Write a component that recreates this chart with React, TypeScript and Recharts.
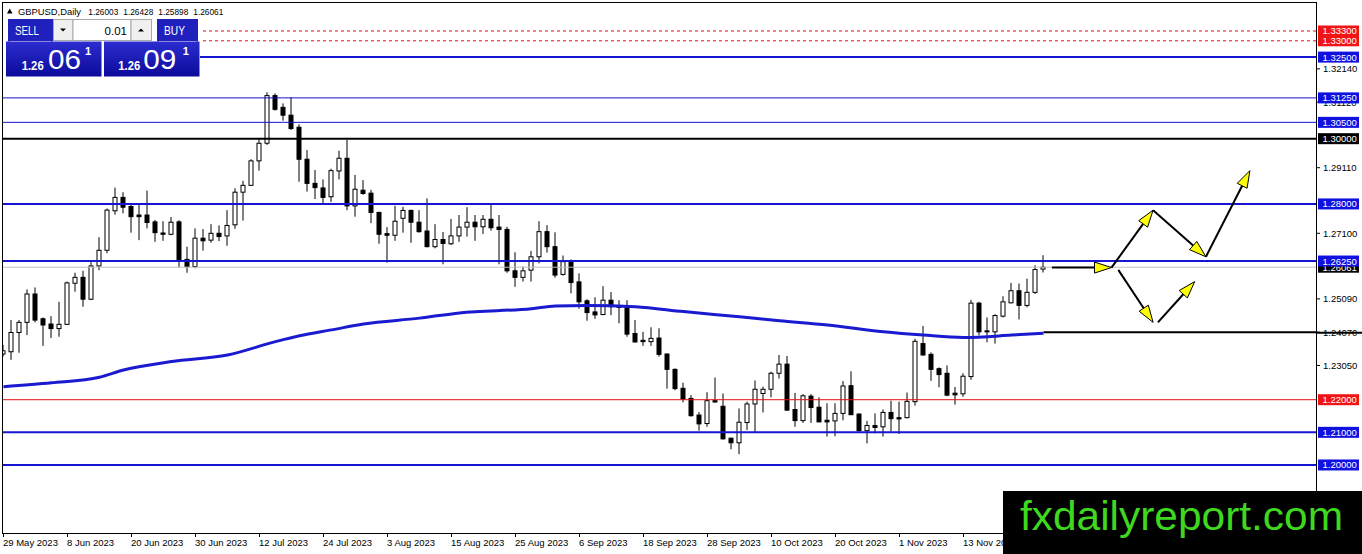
import { ComposedChart, Bar, Line, XAxis, YAxis, ReferenceLine } from "recharts";

// GBPUSD daily candles, 29 May 2023 -> 27 Nov 2023
const opens = [
  1.2340, 1.2347, 1.2406, 1.2437, 1.2524, 1.2448, 1.2432, 1.2418, 1.2431, 1.2557,
  1.2575, 1.2508, 1.2610, 1.2658, 1.2779, 1.2820, 1.2792, 1.2766, 1.2766, 1.2745,
  1.2711, 1.2707, 1.2745, 1.2630, 1.2608, 1.2695, 1.2689, 1.2710, 1.2702, 1.2736,
  1.2836, 1.2857, 1.2932, 1.2986, 1.3132, 1.3096, 1.3072, 1.3035, 1.2937, 1.2863,
  1.2849, 1.2822, 1.2901, 1.2940, 1.2794, 1.2842, 1.2833, 1.2774, 1.2709, 1.2704,
  1.2756, 1.2780, 1.2744, 1.2717, 1.2669, 1.2691, 1.2678, 1.2702, 1.2729, 1.2744,
  1.2730, 1.2753, 1.2729, 1.2722, 1.2595, 1.2575, 1.2597, 1.2638, 1.2715, 1.2669,
  1.2584, 1.2625, 1.2561, 1.2503, 1.2469, 1.2461, 1.2505, 1.2487, 1.2487, 1.2403,
  1.2382, 1.2378, 1.2389, 1.2340, 1.2293, 1.2235, 1.2204, 1.2153, 1.2127, 1.2197,
  1.2180, 1.2082, 1.2068, 1.2130, 1.2187, 1.2219, 1.2232, 1.2281, 1.2309, 1.2170,
  1.2136, 1.2211, 1.2177, 1.2137, 1.2135, 1.2158, 1.2243, 1.2156, 1.2105, 1.2121,
  1.2117, 1.2161, 1.2145, 1.2145, 1.2194, 1.2372, 1.2339, 1.2295, 1.2281, 1.2220,
  1.2218, 1.2271, 1.2496, 1.2411, 1.2408, 1.2456, 1.2497, 1.2534, 1.2489, 1.2529,
  1.26003,
];
const highs = [
  1.2368, 1.2444, 1.2444, 1.2538, 1.2544, 1.2452, 1.2456, 1.2500, 1.2562, 1.2589,
  1.2595, 1.2623, 1.2698, 1.2786, 1.2850, 1.2836, 1.2800, 1.2802, 1.2841, 1.2751,
  1.2747, 1.2760, 1.2750, 1.2669, 1.2725, 1.2723, 1.2738, 1.2734, 1.2781, 1.2848,
  1.2871, 1.2937, 1.2998, 1.3142, 1.3139, 1.3108, 1.3127, 1.3044, 1.2965, 1.2904,
  1.2875, 1.2908, 1.2963, 1.2996, 1.2889, 1.2873, 1.2843, 1.2776, 1.2729, 1.2794,
  1.2791, 1.2783, 1.2781, 1.2817, 1.2738, 1.2714, 1.2754, 1.2766, 1.2790, 1.2766,
  1.2766, 1.2802, 1.2766, 1.2730, 1.2652, 1.2608, 1.2656, 1.2747, 1.2735, 1.2713,
  1.2642, 1.2630, 1.2587, 1.2508, 1.2514, 1.2548, 1.2530, 1.2505, 1.2505, 1.2444,
  1.2408, 1.2422, 1.2419, 1.2342, 1.2296, 1.2252, 1.2214, 1.2162, 1.2223, 1.2268,
  1.2219, 1.2084, 1.2173, 1.2194, 1.2259, 1.2240, 1.2286, 1.2337, 1.2334, 1.2221,
  1.2217, 1.2217, 1.2207, 1.2189, 1.2189, 1.2257, 1.2287, 1.2158, 1.2135, 1.2158,
  1.2170, 1.2197, 1.2194, 1.2222, 1.2387, 1.2426, 1.2345, 1.2299, 1.2305, 1.2239,
  1.2281, 1.2506, 1.2500, 1.2452, 1.2462, 1.2517, 1.2558, 1.2556, 1.2571, 1.2612,
  1.26428,
];
const lows = [
  1.2332, 1.2322, 1.2344, 1.2398, 1.2437, 1.2365, 1.2389, 1.2393, 1.2429, 1.2531,
  1.2485, 1.2505, 1.2597, 1.2649, 1.2767, 1.2771, 1.2712, 1.2689, 1.2725, 1.2684,
  1.2687, 1.2704, 1.2605, 1.2589, 1.2603, 1.2657, 1.2681, 1.2686, 1.2672, 1.2724,
  1.2749, 1.2855, 1.2902, 1.2981, 1.3086, 1.3055, 1.3027, 1.2868, 1.2838, 1.2815,
  1.2800, 1.2806, 1.2875, 1.2781, 1.2761, 1.2828, 1.2741, 1.2678, 1.2620, 1.2687,
  1.2712, 1.2681, 1.2712, 1.2667, 1.2664, 1.2615, 1.2674, 1.2684, 1.2700, 1.2687,
  1.2708, 1.2718, 1.2615, 1.2589, 1.2546, 1.2562, 1.2562, 1.2618, 1.2651, 1.2574,
  1.2580, 1.2526, 1.2479, 1.2442, 1.2448, 1.2459, 1.2459, 1.2434, 1.2393, 1.2375,
  1.2365, 1.2365, 1.2332, 1.2234, 1.2229, 1.2192, 1.2148, 1.2105, 1.2117, 1.2191,
  1.2078, 1.2048, 1.2033, 1.2107, 1.2100, 1.2161, 1.2207, 1.2265, 1.2166, 1.2117,
  1.2129, 1.2129, 1.2131, 1.2087, 1.2088, 1.2137, 1.2153, 1.2102, 1.2066, 1.2097,
  1.2087, 1.2102, 1.2095, 1.2143, 1.2182, 1.2335, 1.2258, 1.2238, 1.2211, 1.2185,
  1.2209, 1.2261, 1.2397, 1.2376, 1.2372, 1.2452, 1.2495, 1.2446, 1.2483, 1.2524,
  1.25898,
];
const closes = [
  1.2350, 1.2406, 1.2437, 1.2524, 1.2444, 1.2429, 1.2418, 1.2431, 1.2558, 1.2575,
  1.2508, 1.2610, 1.2658, 1.2781, 1.2820, 1.2790, 1.2761, 1.2761, 1.2743, 1.2712,
  1.2707, 1.2744, 1.2628, 1.2608, 1.2695, 1.2687, 1.2710, 1.2700, 1.2734, 1.2836,
  1.2857, 1.2932, 1.2986, 1.3132, 1.3090, 1.3072, 1.3031, 1.2937, 1.2863, 1.2850,
  1.2820, 1.2902, 1.2940, 1.2794, 1.2845, 1.2832, 1.2774, 1.2707, 1.2704, 1.2747,
  1.2780, 1.2744, 1.2715, 1.2669, 1.2691, 1.2679, 1.2702, 1.2729, 1.2744, 1.2730,
  1.2753, 1.2727, 1.2722, 1.2595, 1.2575, 1.2595, 1.2638, 1.2715, 1.2669, 1.2582,
  1.2623, 1.2559, 1.2500, 1.2467, 1.2460, 1.2505, 1.2485, 1.2483, 1.2401, 1.2377,
  1.2378, 1.2388, 1.2339, 1.2293, 1.2234, 1.2202, 1.2151, 1.2126, 1.2197, 1.2193,
  1.2080, 1.2068, 1.2131, 1.2187, 1.2232, 1.2232, 1.2281, 1.2309, 1.2168, 1.2136,
  1.2212, 1.2176, 1.2132, 1.2132, 1.2158, 1.2242, 1.2154, 1.2105, 1.2121, 1.2115,
  1.2161, 1.2142, 1.2141, 1.2195, 1.2379, 1.2337, 1.2293, 1.2277, 1.2214, 1.2215,
  1.2272, 1.2496, 1.2408, 1.2408, 1.2458, 1.2500, 1.2534, 1.2489, 1.2529, 1.2599,
  1.26061,
];

const tickIndex = [0, 8, 16, 24, 32, 40, 48, 56, 64, 72, 80, 88, 96, 104, 112, 120];
const tickDates = [
  "29 May 2023", "8 Jun 2023", "20 Jun 2023", "30 Jun 2023", "12 Jul 2023", "24 Jul 2023",
  "3 Aug 2023", "15 Aug 2023", "25 Aug 2023", "6 Sep 2023", "18 Sep 2023", "28 Sep 2023",
  "10 Oct 2023", "20 Oct 2023", "1 Nov 2023", "13 Nov 2023",
];

// moving average, read at a few candles
const maIndex = [0, 6, 12, 15, 21, 28, 34, 37, 41, 45, 52, 57, 66, 69, 73, 79, 85, 92, 97, 103, 110, 115, 120, 126, 130];
const maValues = [
  1.2240, 1.2252, 1.2269, 1.2291, 1.2317, 1.2337, 1.2378, 1.2396, 1.2414, 1.2432, 1.2450, 1.2466,
  1.2479, 1.2487, 1.2489, 1.2485, 1.2470, 1.2454, 1.2442, 1.2429, 1.2408, 1.2398, 1.2391, 1.2398, 1.2404,
];

const blueThick = [1.325, 1.28, 1.2625, 1.21, 1.2];
const blueThin = [1.3125, 1.305];
const blackLevels = [1.3];
const redDotted = [1.333, 1.33];
const redLevels = [1.22];
const bidPrice = 1.26061;
const supportLevel = 1.2407;
const supportFrom = 130;

const plainTicks = [1.3214, 1.3112, 1.2911, 1.271, 1.2509, 1.2407, 1.2305];
const boxedTicks = [1.26061, 1.333, 1.33, 1.325, 1.3125, 1.305, 1.3, 1.28, 1.2625, 1.22, 1.21, 1.2];

// drawn arrows: [index, price] start / end
const arrowStarts = [[131.05, 1.2605], [138.5, 1.2605], [143.7, 1.2781], [150.3, 1.2638], [139.35, 1.2598], [144.3, 1.2437]];
const arrowEnds = [[138.5, 1.2605], [143.7, 1.2781], [150.3, 1.2638], [155.8, 1.2902], [143.7, 1.2437], [148.9, 1.2562]];

const FONT = "Tahoma, 'Liberation Sans', Arial, sans-serif";
const BLUE = "#1414d2";

const chartData = opens.map((o, i) => {
  const k = maIndex.indexOf(i);
  return { i, open: o, high: highs[i], low: lows[i], close: closes[i], ma: k >= 0 ? maValues[k] : undefined };
});

const boxColor = (label: string) => {
  const v = Number(label);
  if (label === bidPrice.toFixed(5)) return "#000";
  if (redDotted.includes(v) || redLevels.includes(v)) return "#f01414";
  if (blackLevels.includes(v)) return "#000";
  if (blueThick.includes(v) || blueThin.includes(v)) return "#1010e0";
  return null;
};

const Candle = (props: any) => {
  const { x, y, width, height, payload } = props;
  if (!payload || x == null) return null;
  const { open, close, high, low } = payload;
  const top = Math.min(y, y + height);
  const bot = Math.max(y, y + height);
  const span = high - low || 1e-9;
  const py = (p: number) => top + ((high - p) / span) * (bot - top);
  const cx = x + width / 2;
  const up = close >= open;
  const bTop = py(Math.max(open, close));
  const bBot = py(Math.min(open, close));
  return (
    <g>
      <line x1={cx} x2={cx} y1={top} y2={bot} stroke="#000" strokeWidth={1} />
      <rect x={x + 0.5} y={bTop} width={width - 1} height={Math.max(bBot - bTop, 1)} fill={up ? "#fff" : "#000"} stroke="#000" strokeWidth={1} />
    </g>
  );
};

const Arrow = (p: any) => {
  const { x1, y1, x2, y2 } = p;
  const ang = Math.atan2(y2 - y1, x2 - x1);
  const L = 17;
  const W = 5.5;
  const bx = x2 - L * Math.cos(ang);
  const by = y2 - L * Math.sin(ang);
  const nx = -Math.sin(ang) * W;
  const ny = Math.cos(ang) * W;
  return (
    <g>
      <line x1={x1} y1={y1} x2={bx} y2={by} stroke="#000" strokeWidth={2} />
      <polygon points={`${x2},${y2} ${bx + nx},${by + ny} ${bx - nx},${by - ny}`} fill="#ffff00" stroke="#000" strokeWidth={1} />
    </g>
  );
};

const YTick = (props: any) => {
  const { x, y, payload } = props;
  const label = Number(payload.value).toFixed(5);
  const bg = boxColor(label);
  if (bg) {
    return (
      <g>
        <rect x={x + 2} y={y - 5.5} width={41} height={11} fill={bg} />
        <text x={x + 6.5} y={y + 3.5} fill="#fff" fontSize={9.5} fontFamily={FONT}>{label}</text>
      </g>
    );
  }
  return (
    <g>
      <line x1={x} x2={x + 4} y1={y} y2={y} stroke="#000" />
      <text x={x + 7} y={y + 3.5} fill="#000" fontSize={9.5} fontFamily={FONT}>{label}</text>
      {payload.value === supportLevel && <line x1={x} x2={x + 46} y1={y + 0.5} y2={y + 0.5} stroke="#000" strokeWidth={2} />}
    </g>
  );
};

const XTick = (props: any) => {
  const { x, y, payload } = props;
  const k = tickIndex.indexOf(payload.value);
  const tx = Math.floor(x) + 0.5;
  return (
    <g>
      <line x1={tx} x2={tx} y1={y} y2={y + 4} stroke="#000" />
      <text x={x - 0.5} y={y + 13} fill="#000" fontSize={9.5} fontFamily={FONT}>{tickDates[k]}</text>
    </g>
  );
};

export default function App() {
  return (
    <div style={{ position: "relative", width: 1362, height: 554, background: "#fff", overflow: "hidden" }}>
      <style>{"body{margin:0}"}</style>
      <ComposedChart width={1362} height={554} data={chartData} margin={{ top: 3, right: 0, bottom: 0, left: 3 }}>
        <XAxis
          dataKey="i"
          type="number"
          domain={[-0.0625, 164.0625]}
          allowDataOverflow
          ticks={tickIndex}
          interval={0}
          tick={XTick}
          tickLine={false}
          axisLine={false}
          tickSize={0}
          tickMargin={0}
          height={21}
        />
        <YAxis
          orientation="right"
          type="number"
          domain={[1.17915, 1.34158]}
          allowDataOverflow
          ticks={[...plainTicks, ...boxedTicks]}
          interval={0}
          tick={YTick}
          tickLine={false}
          axisLine={false}
          tickSize={0}
          tickMargin={0}
          width={46}
        />
        {redDotted.map((v) => (
          <ReferenceLine key={`rd${v}`} y={v} stroke="#e01010" strokeDasharray="3 3" strokeWidth={1} />
        ))}
        {blueThin.map((v) => (
          <ReferenceLine key={`bt${v}`} y={v} stroke={BLUE} strokeWidth={1} />
        ))}
        {blueThick.map((v) => (
          <ReferenceLine key={`bk${v}`} y={v} stroke={BLUE} strokeWidth={2} />
        ))}
        {blackLevels.map((v) => (
          <ReferenceLine key={`k${v}`} y={v} stroke="#000" strokeWidth={2} />
        ))}
        {redLevels.map((v) => (
          <ReferenceLine key={`r${v}`} y={v} stroke="#e01010" strokeWidth={1} />
        ))}
        <ReferenceLine y={bidPrice} stroke="#c0c0c0" strokeWidth={1} />
        <ReferenceLine
          segment={[{ x: supportFrom, y: supportLevel }, { x: 164.0625, y: supportLevel }]}
          stroke="#000"
          strokeWidth={2}
        />
        <Line
          dataKey="ma"
          type="monotone"
          stroke="#1a1ad0"
          strokeWidth={3}
          dot={false}
          connectNulls
          isAnimationActive={false}
        />
        <Bar dataKey={(d: any) => [d.low, d.high]} shape={Candle} barSize={5} isAnimationActive={false} />
        {arrowStarts.map((s, k) => (
          <ReferenceLine
            key={`a${k}`}
            segment={[{ x: s[0], y: s[1] }, { x: arrowEnds[k][0], y: arrowEnds[k][1] }]}
            shape={Arrow}
          />
        ))}
      </ComposedChart>

      <div
        style={{
          position: "absolute", left: 2, top: 2, width: 1315, height: 532,
          boxSizing: "border-box", border: "1px solid #000", pointerEvents: "none",
        }}
      />

      <svg width={1362} height={554} style={{ position: "absolute", left: 0, top: 0, pointerEvents: "none" }}>
        <defs>
          <linearGradient id="tile" x1="0" y1="0" x2="0" y2="1">
            <stop offset="0" stopColor="#2c2cd0" />
            <stop offset="1" stopColor="#0b0b9a" />
          </linearGradient>
        </defs>
        {/* title */}
        <polygon points="7,13.5 12.5,13.5 9.75,8.5" fill="#000" />
        <text x={18} y={14.5} fontSize={9.5} fontFamily={FONT} fill="#000" textLength={63} lengthAdjust="spacingAndGlyphs">GBPUSD,Daily</text>
        {["1.26003", "1.26428", "1.25898", "1.26061"].map((t, k) => (
          <text key={t} x={88.3 + k * 35} y={14.5} fontSize={9.5} fontFamily={FONT} fill="#000" textLength={30} lengthAdjust="spacingAndGlyphs">{t}</text>
        ))}
        {/* one-click panel */}
        <rect x={3} y={17} width={197} height={61} fill="#fff" />
        <rect x={6} y={41.5} width={95.5} height={35} fill="url(#tile)" />
        <rect x={104} y={41.5} width={95.5} height={35} fill="url(#tile)" />
        <rect x={8} y={19} width={45} height={22.5} fill="#2020bc" />
        <rect x={157} y={19} width={41} height={22.5} fill="#2020bc" />
        <line x1={10} x2={51} y1={41.5} y2={41.5} stroke="#8c8ce6" />
        <line x1={159} x2={196} y1={41.5} y2={41.5} stroke="#8c8ce6" />
        <text x={15} y={35} fontSize={12} fontFamily={FONT} fill="#fff" textLength={24} lengthAdjust="spacingAndGlyphs">SELL</text>
        <text x={164} y={35} fontSize={12} fontFamily={FONT} fill="#fff" textLength={21} lengthAdjust="spacingAndGlyphs">BUY</text>
        <rect x={53.5} y={19.5} width={19.5} height={21} fill="#f0f0f0" stroke="#a8a8a8" />
        <polygon points="60,28.5 66,28.5 63,31.5" fill="#000" />
        <rect x={73} y={19.5} width={58} height={21} fill="#fff" stroke="#a8a8a8" />
        <text x={127} y={34.5} fontSize={11.5} fontFamily={FONT} fill="#000" textAnchor="end">0.01</text>
        <rect x={131} y={19.5} width={20.5} height={21} fill="#f0f0f0" stroke="#a8a8a8" />
        <polygon points="138,31.5 144,31.5 141,28.5" fill="#000" />
        <text x={21.7} y={70} fontSize={13} fontWeight="bold" fontFamily={FONT} fill="#fff" textLength={22} lengthAdjust="spacingAndGlyphs">1.26</text>
        <text x={48} y={69} fontSize={27} fontFamily={FONT} fill="#fff" textLength={33} lengthAdjust="spacingAndGlyphs">06</text>
        <text x={85} y={55} fontSize={11} fontWeight="bold" fontFamily={FONT} fill="#fff">1</text>
        <text x={118.3} y={70} fontSize={13} fontWeight="bold" fontFamily={FONT} fill="#fff" textLength={22} lengthAdjust="spacingAndGlyphs">1.26</text>
        <text x={143.3} y={69} fontSize={27} fontFamily={FONT} fill="#fff" textLength={33} lengthAdjust="spacingAndGlyphs">09</text>
        <text x={182.7} y={55} fontSize={11} fontWeight="bold" fontFamily={FONT} fill="#fff">1</text>
        {/* watermark */}
        <rect x={1003} y={491} width={359} height={63} fill="#000" />
        <text x={1020} y={530} fontSize={41} fontFamily="'Liberation Sans', Arial, sans-serif" fill="#3fd81f" textLength={323} lengthAdjust="spacingAndGlyphs">fxdailyreport.com</text>
      </svg>
    </div>
  );
}
